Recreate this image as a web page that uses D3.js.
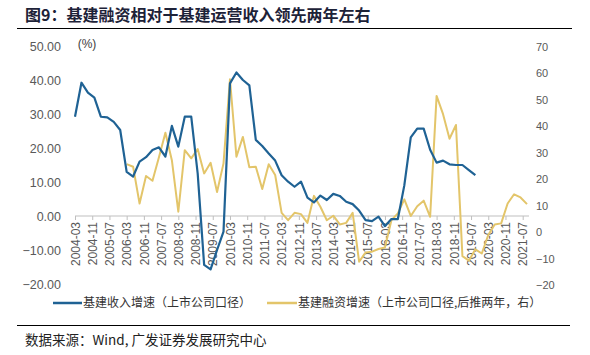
<!DOCTYPE html>
<html>
<head>
<meta charset="utf-8">
<script src="https://cdn.jsdelivr.net/npm/d3@7"></script>
<style>
  html, body { margin: 0; padding: 0; background: #fff; }
  svg { display: block; }
  text { font-family: "Liberation Sans", Arial, "Noto Sans CJK SC", sans-serif; }
  .cjk { font-family: "Noto Sans CJK SC", "Liberation Sans", sans-serif; }
</style>
</head>
<body>
<svg id="chart" width="590" height="355"></svg>
<script>
// ---- Data ----
const titleText = "图9：基建融资相对于基建运营收入领先两年左右";
const sourceText = "数据来源：Wind, 广发证券发展研究中心";
const seriesNames = ["基建收入增速（上市公司口径）", "基建融资增速（上市公司口径,后推两年，右）"];

// quarterly, blue: 2004-03 .. 2019-09
const revenueStart = "2004-03";
const revenueGrowth = [
  29.2, 39.2, 36.3, 34.8,
  29.2, 29.0, 27.7, 25.3,
  13.0, 11.6, 16.0, 17.3,
  19.4, 20.2, 17.5, 26.5,
  20.4, 29.2, 29.2, 12.5,
  -14.4, -15.7, -10.0, -4.6,
  39.0, 42.2, 40.0, 38.4,
  22.4, 20.6, 18.4, 16.3,
  12.0, 10.1, 8.6, 10.1,
  5.4, 4.0, 6.0, 4.7,
  6.5, 5.9, 4.2, 3.5,
  1.6, -1.2, -1.5, -0.2,
  -3.0, -0.9, -0.9, 9.0,
  23.1, 25.7, 25.7, 19.5,
  15.7, 16.3, 15.2, 15.0,
  15.0, 13.5, 12.0
];

// quarterly, gold (shifted two years): 2006-03 .. 2021-09
const financeStart = "2006-03";
const financeGrowth = [
  25.7, 24.7, 10.8, 21.2,
  19.4, 28.3, 37.6, 27.2,
  7.7, 31.0, 27.9, 31.4,
  22.2, 26.2, 15.2, 26.0,
  57.8, 28.5, 36.0, 24.5,
  24.7, 16.3, 25.7, 21.6,
  7.3, 4.5, 7.3, 6.8,
  3.5, 13.7, 9.6, 4.5,
  6.2, 2.9, 3.5, 7.3,
  -11.2, -7.7, -7.4, -6.4,
  -5.8, 4.5, 7.1, 12.4,
  6.1, 9.8, 11.9, 5.8,
  51.5, 44.6, 35.3, 40.5,
  -9.1, -10.8, -6.5, -8.1,
  -1.1, 2.9, 3.3, 10.8,
  14.3, 13.1, 10.6
];

const leftTicks = [50, 40, 30, 20, 10, 0, -10, -20];
const rightTicks = [70, 60, 50, 40, 30, 20, 10, 0, -10, -20];
const xTickStart = "2004-03", xTickEnd = "2021-07", xTickStepMonths = 8;

// ---- Helpers ----
function monthIndex(s) { const [y, m] = s.split("-").map(Number); return (y - 2004) * 12 + (m - 3); }
function label(idx) { const t = idx + 2; const y = 2004 + Math.floor(t / 12); const m = (t % 12) + 1; return y + "-" + String(m).padStart(2, "0"); }

const revData = revenueGrowth.map((v, i) => ({ m: monthIndex(revenueStart) + 3 * i, v }));
const finData = financeGrowth.map((v, i) => ({ m: monthIndex(financeStart) + 3 * i, v }));
const xTicks = d3.range(monthIndex(xTickStart), monthIndex(xTickEnd) + 1, xTickStepMonths);

// ---- Scales ----
const x = d3.scaleLinear().domain([0, 210]).range([75, 527]);
const yL = d3.scaleLinear().domain([-20, 50]).range([284, 46]);
const yR = d3.scaleLinear().domain([-20, 70]).range([285, 47]);

const svg = d3.select("#chart");

// Title
svg.append("text").attr("class", "cjk").attr("x", 25).attr("y", 21)
  .attr("font-size", 16).attr("font-weight", "bold").attr("fill", "#1d2238").text(titleText);
svg.append("line").attr("x1", 17).attr("x2", 572).attr("y1", 28.5).attr("y2", 28.5)
  .attr("stroke", "#000").attr("stroke-width", 1);

// Left axis labels
const gL = svg.append("g").attr("transform", "translate(61,0)");
gL.call(d3.axisLeft(yL).tickValues(leftTicks).tickFormat(d3.format(".2f")).tickSize(0).tickPadding(0));
gL.select(".domain").remove();
gL.selectAll("text").attr("font-size", 12.5).attr("fill", "#595959").attr("font-family", "Liberation Sans, Arial, sans-serif");

svg.append("text").attr("x", 87).attr("y", 48).attr("text-anchor", "middle")
  .attr("font-size", 12).attr("fill", "#404040").text("(%)");

// Right axis labels
const gR = svg.append("g").attr("transform", "translate(536,0)");
gR.call(d3.axisRight(yR).tickValues(rightTicks).tickFormat(d3.format("d")).tickSize(0).tickPadding(0));
gR.select(".domain").remove();
gR.selectAll("text").attr("font-size", 12).attr("fill", "#595959").attr("font-family", "DejaVu Sans, sans-serif").attr("font-size", 11);

// X axis at left-axis zero
const gX = svg.append("g").attr("transform", `translate(0,${yL(0)})`);
gX.call(d3.axisBottom(x).tickValues(xTicks).tickFormat(label).tickSize(4).tickSizeOuter(0));
gX.select(".domain").attr("d", `M${x(0)},0H529`).attr("stroke", "#bfbfbf");
gX.selectAll(".tick line").attr("stroke", "#bfbfbf");
gX.selectAll(".tick text")
  .attr("font-size", 12).attr("fill", "#595959")
  .attr("transform", "rotate(-90)")
  .attr("text-anchor", "end")
  .attr("x", -6).attr("y", 0).attr("dy", "0.35em");

// Lines
const lineL = d3.line().x(d => x(d.m)).y(d => yL(d.v));
const lineR = d3.line().x(d => x(d.m)).y(d => yR(d.v));
const blue = "#1f6294", gold = "#e3c56a";

svg.append("path").datum(finData).attr("d", lineR).attr("fill", "none")
  .attr("stroke", gold).attr("stroke-width", 2).attr("stroke-linejoin", "round");
svg.append("path").datum(revData).attr("d", lineL).attr("fill", "none")
  .attr("stroke", blue).attr("stroke-width", 2.2).attr("stroke-linejoin", "round");

// Legend
const legend = [{ x1: 53, x2: 82, tx: 83, c: blue, t: seriesNames[0] }, { x1: 267, x2: 297, tx: 298, c: gold, t: seriesNames[1] }];
legend.forEach(l => {
  svg.append("line").attr("x1", l.x1).attr("x2", l.x2).attr("y1", 303).attr("y2", 303)
    .attr("stroke", l.c).attr("stroke-width", 2.5);
  svg.append("text").attr("class", "cjk").attr("x", l.tx).attr("y", 303).attr("dy", "0.35em")
    .attr("font-size", 12).attr("fill", "#333").text(l.t);
});

// Bottom rule and source
svg.append("line").attr("x1", 17).attr("x2", 570).attr("y1", 325.5).attr("y2", 325.5)
  .attr("stroke", "#000").attr("stroke-width", 1);
svg.append("text").attr("class", "cjk").attr("x", 25).attr("y", 340).attr("dy", "0.35em")
  .attr("font-size", 13.5).attr("fill", "#222").text(sourceText);
</script>
</body>
</html>
